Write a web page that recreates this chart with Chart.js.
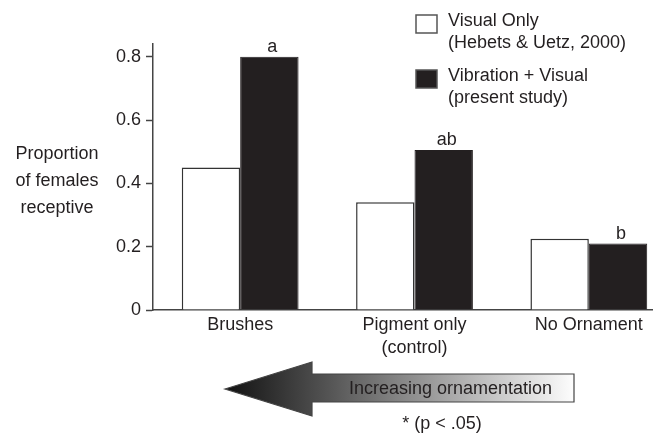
<!DOCTYPE html>
<html>
<head>
<meta charset="utf-8">
<script src="https://cdn.jsdelivr.net/npm/chart.js@4"></script>
<style>
  html, body { margin: 0; padding: 0; background: #fff; overflow: hidden; }
  #wrap { width: 676px; height: 434px; }
</style>
</head>
<body>
<div id="wrap"><canvas id="myChart" width="676" height="434"></canvas></div>
<script>
// data
let categories = [['Brushes'], ['Pigment only', '(control)'], ['No Ornament']];
let visualOnly = [0.45, 0.34, 0.225];
let vibrationVisual = [0.80, 0.505, 0.21];
let sigLetters = ['a', 'ab', 'b'];
let yTicks = [0, 0.2, 0.4, 0.6, 0.8];
let seriesNames = [['Visual Only', '(Hebets & Uetz, 2000)'], ['Vibration + Visual', '(present study)']];
let yTitle = ['Proportion', 'of females', 'receptive'];
let arrowText = 'Increasing ornamentation';
let noteText = '* (p < .05)';

let ink = '#231f20';
let font = "'Liberation Sans', Arial, sans-serif";

// extra drawing: y title, legend, letters, arrow
let extras = {
    id: 'extras',
    afterDraw(chart) {
        let ctx = chart.ctx;
        ctx.save();
        ctx.fillStyle = ink;
        ctx.font = '18px ' + font;

        // y axis title, horizontal
        ctx.textAlign = 'center';
        ctx.textBaseline = 'middle';
        yTitle.forEach((line, i) => ctx.fillText(line, 57, 154 + i * 27));

        // significance letters over the black bars
        let meta = chart.getDatasetMeta(1);
        ctx.textBaseline = 'alphabetic';
        meta.data.forEach((bar, i) => {
            ctx.fillText(sigLetters[i], bar.x + 3, bar.y - 5);
        });

        // legend
        let boxTops = [15, 70];
        let fills = ['#ffffff', ink];
        seriesNames.forEach((lines, i) => {
            ctx.fillStyle = fills[i];
            ctx.fillRect(416, boxTops[i], 21, 18);
            ctx.strokeStyle = '#555';
            ctx.lineWidth = 1.5;
            ctx.strokeRect(416, boxTops[i], 21, 18);
            ctx.fillStyle = ink;
            ctx.textAlign = 'left';
            lines.forEach((t, j) => ctx.fillText(t, 448, boxTops[i] + 11 + j * 22));
        });

        // big gradient arrow
        let grad = ctx.createLinearGradient(225, 0, 574, 0);
        grad.addColorStop(0, '#111');
        grad.addColorStop(0.3, '#555');
        grad.addColorStop(1, '#fdfdfd');
        ctx.beginPath();
        ctx.moveTo(225, 389);
        ctx.lineTo(312, 362);
        ctx.lineTo(312, 374);
        ctx.lineTo(574, 374);
        ctx.lineTo(574, 402);
        ctx.lineTo(312, 402);
        ctx.lineTo(312, 416);
        ctx.closePath();
        ctx.fillStyle = grad;
        ctx.fill();
        ctx.strokeStyle = '#444';
        ctx.lineWidth = 1.2;
        ctx.stroke();

        ctx.fillStyle = ink;
        ctx.textAlign = 'left';
        ctx.fillText(arrowText, 349, 394);
        ctx.textAlign = 'center';
        ctx.fillText(noteText, 442, 429);
        ctx.restore();
    }
};

new Chart('myChart', {
    type: 'bar',
    data: {
        labels: categories,
        datasets: [{
            label: seriesNames[0].join(' '),
            data: visualOnly,
            backgroundColor: '#ffffff',
            borderColor: '#333',
            borderWidth: 1.5
        }, {
            label: seriesNames[1].join(' '),
            data: vibrationVisual,
            backgroundColor: ink,
            borderColor: ink,
            borderWidth: 1
        }]
    },
    options: {
        responsive: false,
        animation: false,
        devicePixelRatio: 1,
        layout: { padding: { left: 0, right: 0, top: 44, bottom: 0 } },
        datasets: { bar: { categoryPercentage: 0.67, barPercentage: 1.0 } },
        plugins: {
            legend: { display: false },
            tooltip: { enabled: false }
        },
        scales: {
            x: {
                grid: { display: false, drawTicks: false },
                border: { display: true, color: '#444', width: 1.5 },
                ticks: {
                    color: ink,
                    padding: 4,
                    maxRotation: 0,
                    font: { family: font, size: 18, lineHeight: 1.25 }
                },
                afterFit: s => { s.height = 124; }
            },
            y: {
                min: 0,
                max: 0.84,
                grid: { drawOnChartArea: false, tickLength: 7, color: '#444', tickWidth: 1.5 },
                border: { display: true, color: '#444', width: 1.5 },
                ticks: {
                    color: ink,
                    padding: 5,
                    font: { family: font, size: 18 },
                    callback: v => String(v)
                },
                afterBuildTicks: s => {
                    s.ticks = yTicks.map(v => ({ value: v }));
                },
                afterFit: s => { s.width = 153; }
            }
        }
    },
    plugins: [extras]
});
</script>
</body>
</html>
